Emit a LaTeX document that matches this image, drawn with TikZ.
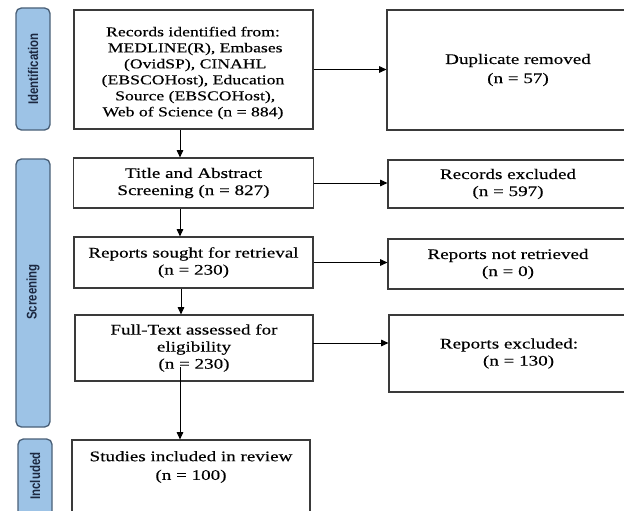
\documentclass[tikz,border=0pt]{standalone}
\usepackage{fontspec}
\setmainfont{Liberation Serif}[FakeStretch=1.3,FakeBold=0.3]
\newfontfamily\barfont{Liberation Sans}[FakeStretch=0.82]
\usetikzlibrary{arrows.meta}
\definecolor{barfill}{HTML}{9DC3E6}
\definecolor{barline}{HTML}{4A6078}
\definecolor{bartext}{HTML}{1C2840}
\definecolor{boxline}{HTML}{3A3A3A}
\tikzset{
  pbox/.style={draw=boxline, line width=0.9pt, rectangle, inner sep=0pt, align=center,
    font=\fontsize{11}{12.8}\selectfont},
  sidebar/.style={draw=barline, fill=barfill, line width=1pt, rounded corners=4pt, rectangle, inner sep=0pt},
  bartxt/.style={rotate=90, text=bartext, font=\barfont\bfseries\fontsize{10.5}{12}\selectfont, inner sep=0pt},
  arr/.style={-{Triangle[length=5.5pt,width=5pt]}, line width=0.6pt, black},
}
\begin{document}
\begin{tikzpicture}[x=0.75pt,y=-0.75pt]
\useasboundingbox (0,0) rectangle (624,510);
\clip (0,0) rectangle (624,510);
% side bars
\node[sidebar, minimum width=34*0.75pt, minimum height=122*0.75pt] (barI) at (33,69) {};
\node[bartxt] (barIt) at (33,69) {Identification};
\node[sidebar, minimum width=34*0.75pt, minimum height=268*0.75pt] (barS) at (33,293) {};
\node[bartxt] (barSt) at (33,292) {Screening};
\node[sidebar, minimum width=34*0.75pt, minimum height=100*0.75pt] (barN) at (35,489) {};
\node[bartxt] (barNt) at (35,476) {Included};
% main boxes
\node[pbox, minimum width=239*0.75pt, minimum height=119*0.75pt] (b1) at (193.5,69.5) {};
\node[align=center, inner sep=0pt, font=\fontsize{10.2}{12}\selectfont] (b1t) at (193,73) {Records identified from:\\ \ MEDLINE(R), Embases\\ \ (OvidSP), CINAHL\\ (EBSCOHost), Education\\ \ Source (EBSCOHost),\\ Web of Science (n = 884)};
\node[pbox, minimum width=240*0.75pt, minimum height=50*0.75pt] (b2) at (193.5,183) {Title and Abstract\\ Screening (n = 827)};
\node[pbox, minimum width=239*0.75pt, minimum height=51*0.75pt] (b3) at (193.5,262.5) {Reports sought for retrieval\\ (n = 230)};
\node[pbox, minimum width=238*0.75pt, minimum height=66*0.75pt] (b4) at (194,348) {Full-Text assessed for\\ eligibility\\ (n = 230)};
\node[pbox, minimum width=238*0.75pt, minimum height=90*0.75pt] (b5) at (191,485) {};
\node[align=center, inner sep=0pt, font=\fontsize{11}{14}\selectfont] (b5t) at (191,467) {Studies included in review\\ (n = 100)};
% right boxes
\node[pbox, minimum width=262*0.75pt, minimum height=120*0.75pt, font=\fontsize{11}{14.3}\selectfont] (r1) at (518,70) {Duplicate removed\\ (n = 57)};
\node[pbox, minimum width=240*0.75pt, minimum height=48*0.75pt] (r2) at (508,184) {Records excluded\\ (n = 597)};
\node[pbox, minimum width=240*0.75pt, minimum height=50*0.75pt] (r3) at (508,264) {Reports not retrieved\\ (n = 0)};
\node[pbox, minimum width=240*0.75pt, minimum height=77*0.75pt] (r4) at (509,353.5) {Reports excluded:\\ \ \ \ \ (n = 130)};
% connectors
\draw[arr] (b1.east) -- (r1.west |- b1.east);
\draw[arr] (b2.east) -- (r2.west |- b2.east);
\draw[arr] (b3.east) -- (r3.west |- b3.east);
\coordinate (c4) at (313,343);
\draw[arr] (c4) -- (r4.west |- c4);
\draw[arr] (b1.south -| 180,0) -- (b2.north -| 180,0);
\draw[arr] (b2.south -| 180,0) -- (b3.north -| 180,0);
\draw[arr] (b3.south -| 181,0) -- (b4.north -| 181,0);
\coordinate (c5) at (180,367);
\draw[arr] (c5) -- (b5.north -| c5);
\end{tikzpicture}
\end{document}
